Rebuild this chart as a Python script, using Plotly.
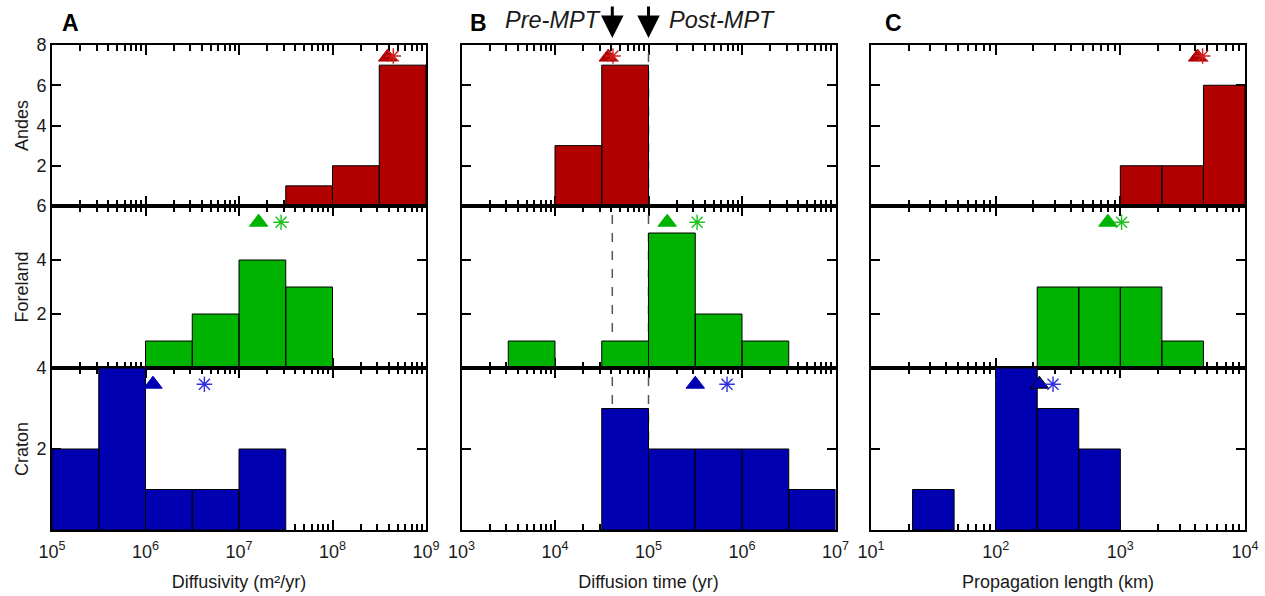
import math
import plotly.graph_objects as go

W, H = 1265, 596

# ---------------- data ----------------
rows = ["Andes", "Foreland", "Craton"]
row_colors = ["#b00000", "#00b300", "#0000b0"]
star_colors = ["#d02020", "#20c020", "#3030e0"]
y_max = [8, 6, 4]
y_ticks = [[2, 4, 6, 8], [2, 4, 6], [2, 4]]

# Panel A : diffusivity (m2/yr), bin edges as log10 values
diff_edges = [5.0, 5.5, 6.0, 6.5, 7.0, 7.5, 8.0, 8.5, 9.0]
diff_counts = {
    "Andes":    [0, 0, 0, 0, 0, 1, 2, 7],
    "Foreland": [0, 0, 1, 2, 4, 3, 0, 0],
    "Craton":   [2, 4, 1, 1, 2, 0, 0, 0],
}
diff_tri = {"Andes": (8.59, 7.4), "Foreland": (7.21, 5.4), "Craton": (6.08, 3.6)}
diff_star = {"Andes": (8.65, 7.45), "Foreland": (7.45, 5.4), "Craton": (6.63, 3.6)}

# Panel B : diffusion time (yr)
time_edges = [3.0, 3.5, 4.0, 4.5, 5.0, 5.5, 6.0, 6.5, 7.0]
time_counts = {
    "Andes":    [0, 0, 3, 7, 0, 0, 0, 0],
    "Foreland": [0, 1, 0, 1, 5, 2, 1, 0],
    "Craton":   [0, 0, 0, 3, 2, 2, 2, 1],
}
time_tri = {"Andes": (4.57, 7.4), "Foreland": (5.20, 5.4), "Craton": (5.50, 3.6)}
time_star = {"Andes": (4.62, 7.45), "Foreland": (5.52, 5.4), "Craton": (5.84, 3.6)}
mpt_periods = [41000, 100000]

# Panel C : propagation length (km)
len_edges = [1.0, 1.3333, 1.6667, 2.0, 2.3333, 2.6667, 3.0, 3.3333, 3.6667, 4.0]
len_counts = {
    "Andes":    [0, 0, 0, 0, 0, 0, 2, 2, 6],
    "Foreland": [0, 0, 0, 0, 3, 3, 3, 1, 0],
    "Craton":   [0, 1, 0, 4, 3, 2, 0, 0, 0],
}
len_tri = {"Andes": (3.62, 7.4), "Foreland": (2.90, 5.4), "Craton": (2.35, 3.6)}
len_star = {"Andes": (3.66, 7.45), "Foreland": (3.01, 5.4), "Craton": (2.46, 3.6)}

panels = [
    dict(letter="A", edges=diff_edges, counts=diff_counts, tri=diff_tri, star=diff_star,
         decades=[5, 6, 7, 8, 9], title="Diffusivity (m²/yr)"),
    dict(letter="B", edges=time_edges, counts=time_counts, tri=time_tri, star=time_star,
         decades=[3, 4, 5, 6, 7], title="Diffusion time (yr)"),
    dict(letter="C", edges=len_edges, counts=len_counts, tri=len_tri, star=len_star,
         decades=[1, 2, 3, 4], title="Propagation length (km)"),
]

# ---------------- layout geometry ----------------
col_px = [(52, 426), (461.5, 835.5), (871, 1245)]
row_px = [(45, 206), (206, 368), (368, 530)]
FONT = "Arial, 'Liberation Sans', sans-serif"
TXT = "#1a1a1a"

fig = go.Figure()
layout = dict(
    width=W, height=H, margin=dict(l=0, r=0, t=0, b=0),
    paper_bgcolor="white", plot_bgcolor="white", showlegend=False,
    font=dict(family=FONT, color=TXT),
)
annotations = []

for c, p in enumerate(panels):
    for r, name in enumerate(rows):
        n = r * 3 + c + 1
        xa = "x" if n == 1 else f"x{n}"
        ya = "y" if n == 1 else f"y{n}"
        color = row_colors[r]

        # dashed MPT lines in panel B
        if p["letter"] == "B":
            for per in mpt_periods:
                fig.add_trace(go.Scatter(
                    x=[per, per], y=[0, y_max[r]], mode="lines", xaxis=xa, yaxis=ya,
                    line=dict(color="#555555", width=1.5, dash="dash"), hoverinfo="skip"))

        # histogram bars as rectangles
        xs, ys = [], []
        edges = p["edges"]
        for i, cnt in enumerate(p["counts"][name]):
            if cnt > 0:
                lo, hi = 10 ** edges[i], 10 ** edges[i + 1]
                xs += [lo, lo, hi, hi, lo, None]
                ys += [0, cnt, cnt, 0, 0, None]
        fig.add_trace(go.Scatter(
            x=xs, y=ys, mode="lines", fill="toself", fillcolor=color,
            line=dict(color="black", width=1), xaxis=xa, yaxis=ya, hoverinfo="skip"))

        # triangle and asterisk markers
        tx, ty = p["tri"][name]
        outline = "black" if (p["letter"] == "C" and name == "Craton") else color
        fig.add_trace(go.Scatter(
            x=[10 ** tx], y=[ty], mode="markers", xaxis=xa, yaxis=ya,
            marker=dict(symbol="triangle-up", size=16, color=color,
                        line=dict(color=outline, width=1))))
        sx, sy = p["star"][name]
        fig.add_trace(go.Scatter(
            x=[10 ** sx], y=[sy], mode="markers", xaxis=xa, yaxis=ya,
            marker=dict(symbol="asterisk-open", size=13, color=star_colors[r],
                        line=dict(color=star_colors[r], width=1.4))))
        fig.add_trace(go.Scatter(
            x=[10 ** sx], y=[sy], mode="markers", xaxis=xa, yaxis=ya,
            marker=dict(symbol="circle", size=3, color=star_colors[r])))

        # axes
        x0, x1 = col_px[c]
        yt, yb = row_px[r]
        decs = p["decades"]
        major = [10 ** d for d in decs]
        minor = [m * 10 ** d for d in decs[:-1] for m in range(2, 10)]
        bottom = r == 2
        xkey = "xaxis" if n == 1 else f"xaxis{n}"
        ykey = "yaxis" if n == 1 else f"yaxis{n}"
        xaxis = dict(
            domain=[x0 / W, x1 / W], anchor=ya, type="log",
            range=[decs[0], decs[-1]],
            tickmode="array", tickvals=major,
            ticktext=[f"10<sup>{d}</sup>" for d in decs],
            showticklabels=bottom, ticks="inside", ticklen=10, tickwidth=1.5,
            tickcolor="black", ticklabelstandoff=4,
            minor=dict(tickmode="array", tickvals=minor, ticks="inside",
                       ticklen=6, tickwidth=1.5, tickcolor="black", showgrid=False),
            showline=True, linecolor="black", linewidth=2, mirror="allticks",
            showgrid=False, zeroline=False, layer="below traces",
            tickfont=dict(size=18, color=TXT, family=FONT),
            automargin=False,
        )
        if bottom:
            xaxis["title"] = dict(text=p["title"], font=dict(size=18, color=TXT),
                                  standoff=15)
        yaxis = dict(
            domain=[1 - yb / H, 1 - yt / H], anchor=xa, range=[0, y_max[r]],
            tickmode="array", tickvals=y_ticks[r],
            showticklabels=(c == 0), ticks="inside", ticklen=9, tickwidth=1.5,
            tickcolor="black", ticklabelstandoff=0,
            showline=True, linecolor="black", linewidth=2, mirror="allticks",
            showgrid=False, zeroline=False, layer="below traces",
            tickfont=dict(size=18, color=TXT, family=FONT),
            automargin=False,
        )
        if c == 0:
            yaxis["title"] = dict(text=name, font=dict(size=18, color=TXT), standoff=3)
        layout[xkey] = xaxis
        layout[ykey] = yaxis

    # panel letter
    letter_x = [70, 478, 893][c]
    annotations.append(dict(
        text=f"<b>{p['letter']}</b>", x=letter_x / W, y=1 - 23 / H,
        xref="paper", yref="paper", xanchor="center", yanchor="middle",
        showarrow=False, font=dict(size=23, color="black", family=FONT)))

# MPT arrows and labels (panel B top row, axis x2)
for per in mpt_periods:
    annotations.append(dict(
        x=math.log10(per), y=1 - 38 / H, xref="x2", yref="paper",
        ax=0, ay=-33, text="", showarrow=True,
        arrowhead=2, arrowsize=1.5, arrowwidth=3, arrowcolor="black"))
annotations.append(dict(
    text="<i>Pre-MPT</i>", x=603 / W, y=1 - 20 / H, xref="paper", yref="paper",
    xanchor="right", yanchor="middle", showarrow=False,
    font=dict(size=23.5, color=TXT, family=FONT)))
annotations.append(dict(
    text="<i>Post-MPT</i>", x=667 / W, y=1 - 20 / H, xref="paper", yref="paper",
    xanchor="left", yanchor="middle", showarrow=False,
    font=dict(size=23.5, color=TXT, family=FONT)))

layout["annotations"] = annotations
fig.update_layout(**layout)
fig.write_html("out.html")
